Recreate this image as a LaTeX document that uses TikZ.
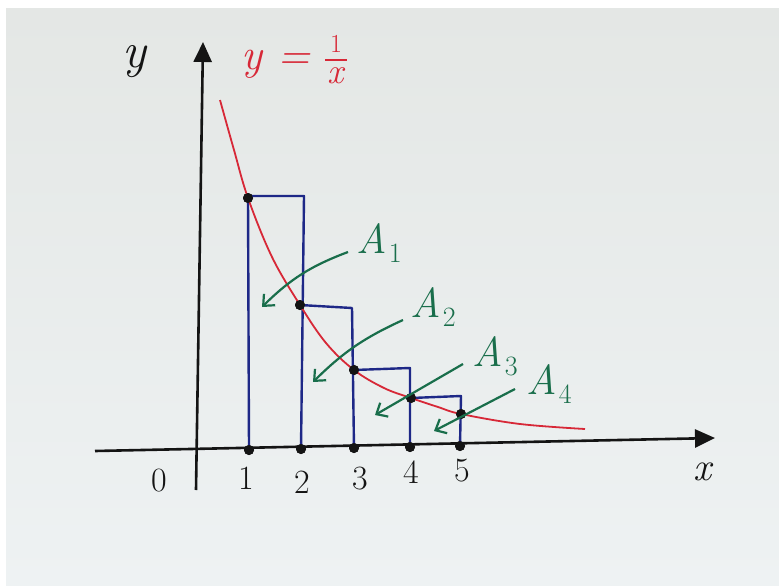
\documentclass[tikz,border=0pt]{standalone}
\usetikzlibrary{arrows.meta}
\definecolor{paperA}{RGB}{228,231,229}
\definecolor{paperB}{RGB}{238,242,243}
\definecolor{inkred}{RGB}{215,40,55}
\definecolor{inkblue}{RGB}{30,40,135}
\definecolor{inkgreen}{RGB}{25,110,75}
\definecolor{inkblack}{RGB}{20,20,20}
\newcommand{\areaname}[1]{\itshape A\kern0.05em\raisebox{-0.22em}{\upshape\fontsize{28}{28}\selectfont #1}}
\begin{document}
\begin{tikzpicture}[x=1pt,y=-1pt,
  axis/.style={inkblack,line width=2.6pt},
  bar/.style={inkblue,line width=2.4pt,line join=round},
  curve/.style={inkred,line width=1.8pt},
  pointer/.style={inkgreen,line width=2.2pt,-{Straight Barb[length=9pt,width=16pt,line width=2.2pt]}},
  dot/.style={circle,fill=inkblack,inner sep=0pt,minimum size=10pt},
  ticklbl/.style={inkblack,font=\fontsize{34}{34}\selectfont},
  arealbl/.style={inkgreen,font=\fontsize{42}{42}\selectfont}]
\useasboundingbox (0,0) rectangle (779,586);
\fill[white] (0,0) rectangle (779,586);
\shade[top color=paperA,bottom color=paperB] (6,9) rectangle (779,586);
% axes
\coordinate (xs) at (95,451);
\coordinate (xe) at (715,438);
\coordinate (ys) at (196,490);
\coordinate (ye) at (203,42);
\draw[axis,-{Triangle[length=20pt,width=18pt]}] (xs) -- (xe);
\draw[axis,-{Triangle[length=20pt,width=18pt]}] (ys) -- (ye);
% points on x axis
\node[dot] (t1) at (249,450) {};
\node[dot] (t2) at (301,449) {};
\node[dot] (t3) at (354,448) {};
\node[dot] (t4) at (410,447) {};
\node[dot] (t5) at (460,446) {};
% points on curve
\node[dot] (p1) at (248,198) {};
\node[dot] (p2) at (300,305) {};
\node[dot] (p3) at (354,370) {};
\node[dot] (p4) at (411,398) {};
\node[dot] (p5) at (461,414) {};
% rectangle corners
\coordinate (r1) at (304,196);
\coordinate (r2) at (352,308);
\coordinate (r3) at (410,368);
\coordinate (r4) at (461,396);
\draw[bar] (t1.center) -- (p1.center) |- (r1) -- (t2.center);
\draw[bar] (p2.center) -- (r2) -- (t3.center);
\draw[bar] (p3.center) -- (r3) -- (t4.center);
\draw[bar] (p4.center) -- (r4) -- (t5.center);
% curve
\draw[curve] plot[smooth,tension=0.6] coordinates {(220,100) (234,150) (248,198) (272,257) (300,305) (326,343) (354,370) (384,388) (411,398) (438,407) (461,414) (520,424) (585,429)};
\node[dot] at (p1) {};
\node[dot] at (p2) {};
\node[dot] at (p3) {};
\node[dot] at (p4) {};
\node[dot] at (p5) {};
\node[dot] at (t1) {};
\node[dot] at (t2) {};
\node[dot] at (t3) {};
\node[dot] at (t4) {};
\node[dot] at (t5) {};
% area labels and arrows
\node[arealbl] (A1) at (379,243) {\areaname{1}};
\node[arealbl] (A2) at (433,307) {\areaname{2}};
\node[arealbl] (A3) at (495,356) {\areaname{3}};
\node[arealbl] (A4) at (549,384) {\areaname{4}};
\coordinate (e1) at (262,307);
\coordinate (e2) at (313,382);
\coordinate (e3) at (375,415);
\coordinate (e4) at (434,431);
\draw[pointer] (348,252) to[bend right=12] (e1);
\draw[pointer] (403,320) to[bend right=10] (e2);
\draw[pointer] (463,364) -- (e3);
\draw[pointer] (515,389) -- (e4);
% axis labels
\node[inkblack,font=\fontsize{50}{50}\selectfont\itshape] (ylab) at (134,62) {y};
\node[inkblack,font=\fontsize{40}{40}\selectfont\itshape] (xlab) at (702,472) {x};
\node[ticklbl] (l0) at (159,481) {0};
\node[ticklbl] (l1) at (246,478) {1};
\node[ticklbl] (l2) at (302,482) {2};
\node[ticklbl] (l3) at (360,479) {3};
\node[ticklbl] (l4) at (411,472) {4};
\node[ticklbl] (l5) at (462,471) {5};
% function label
\node[inkred,font=\fontsize{44}{44}\selectfont\itshape,inner sep=0pt] (flab) at (276,64) {y =};
\node[inkred,font=\fontsize{26}{26}\selectfont,inner sep=0pt,text height=17pt,text depth=0pt] (fnum) at (336,44) {1};
\node[inkred,font=\fontsize{36}{36}\selectfont\itshape,inner sep=0pt,text height=15pt,text depth=0pt] (fden) at (336,76) {x};
\coordinate (barl) at (325,60);
\coordinate (barr) at (347,60);
\draw[inkred,line width=2pt] (barl) -- (barr);
\end{tikzpicture}
\end{document}
